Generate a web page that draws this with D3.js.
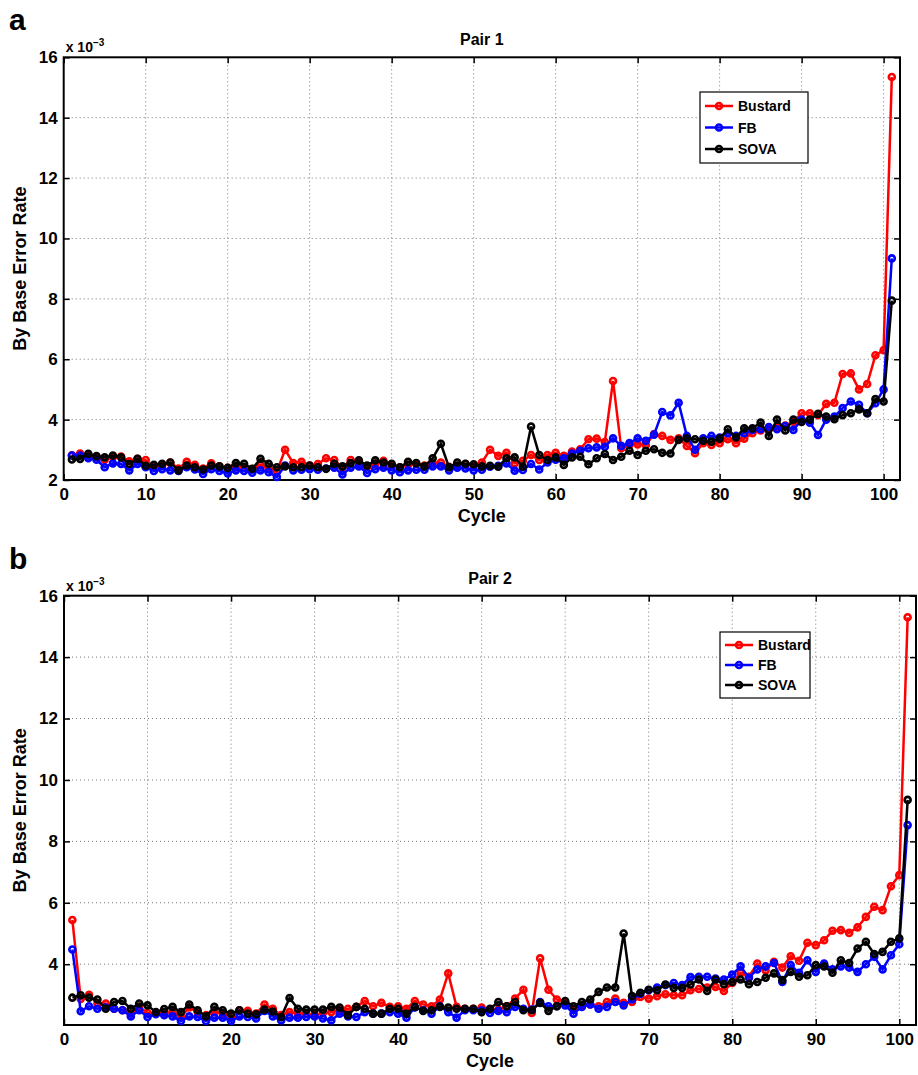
<!DOCTYPE html>
<html>
<head>
<meta charset="utf-8">
<script src="https://cdn.jsdelivr.net/npm/d3@7"></script>
<style>
  body { margin: 0; background: #fff; }
  text { font-family: "Liberation Sans", Arial, sans-serif; font-weight: bold; }
</style>
</head>
<body>
<div id="chart"></div>
<script>
// cycles 1..101
var cycles = d3.range(1, 102);
var seriesNames = ["Bustard", "FB", "SOVA"];
var seriesColors = ["#ff0000", "#0000ff", "#000000"];
var xTicks = [0, 10, 20, 30, 40, 50, 60, 70, 80, 90, 100];

// Pair 1 (values x 10^-3)
var bustard1 = [2.82,2.88,2.8,2.76,2.67,2.76,2.78,2.62,2.7,2.66,2.43,2.47,2.58,2.38,2.6,2.5,2.38,2.55,2.45,2.4,
  2.45,2.4,2.36,2.5,2.38,2.28,3.0,2.56,2.6,2.48,2.53,2.72,2.66,2.42,2.66,2.6,2.43,2.53,2.64,2.5,
  2.42,2.5,2.53,2.48,2.56,2.58,2.44,2.48,2.53,2.48,2.58,3.0,2.8,2.9,2.55,2.64,2.83,2.66,2.83,2.9,
  2.8,2.94,3.02,3.35,3.37,3.26,5.28,3.05,3.16,3.18,3.16,3.52,3.46,3.33,3.38,3.13,2.89,3.22,3.16,3.22,
  3.35,3.22,3.37,3.55,3.64,3.71,3.75,3.8,3.93,4.21,4.21,4.15,4.52,4.56,5.51,5.53,5.0,5.18,6.13,6.3,15.35];
var fb1 = [2.81,2.81,2.72,2.67,2.42,2.55,2.53,2.32,2.53,2.42,2.3,2.36,2.32,2.3,2.42,2.35,2.2,2.36,2.3,2.22,
  2.32,2.3,2.24,2.32,2.26,2.1,2.48,2.32,2.34,2.36,2.34,2.38,2.41,2.18,2.41,2.45,2.23,2.36,2.41,2.32,
  2.26,2.32,2.34,2.34,2.45,2.45,2.32,2.41,2.38,2.32,2.34,2.44,2.47,2.55,2.31,2.33,2.53,2.35,2.58,2.67,
  2.72,2.88,2.97,3.05,3.08,3.1,3.38,3.13,3.22,3.38,3.3,3.5,4.25,4.14,4.56,3.46,3.0,3.38,3.46,3.41,
  3.55,3.46,3.55,3.66,3.68,3.75,3.68,3.79,3.66,4.0,3.9,3.49,4.0,4.1,4.38,4.6,4.49,4.21,4.54,5.0,9.34];
var sova1 = [2.68,2.7,2.87,2.79,2.75,2.81,2.75,2.53,2.7,2.47,2.5,2.54,2.58,2.32,2.48,2.42,2.35,2.48,2.45,2.4,
  2.56,2.54,2.37,2.7,2.54,2.42,2.45,2.42,2.42,2.48,2.42,2.37,2.54,2.45,2.56,2.65,2.48,2.65,2.58,2.54,
  2.42,2.6,2.56,2.45,2.72,3.2,2.42,2.58,2.54,2.52,2.45,2.47,2.44,2.72,2.75,2.44,3.77,2.83,2.66,2.75,
  2.5,2.75,2.77,2.52,2.72,2.86,2.66,2.77,2.97,2.83,2.97,3.02,2.9,2.88,3.33,3.38,3.35,3.3,3.27,3.37,
  3.68,3.41,3.71,3.71,3.9,3.46,4.0,3.64,4.0,3.92,4.0,4.19,4.1,4.01,4.15,4.21,4.34,4.21,4.68,4.6,7.94];

// Pair 2 (values x 10^-3)
var bustard2 = [5.44,2.87,3.0,2.72,2.72,2.55,2.5,2.39,2.61,2.41,2.39,2.41,2.44,2.28,2.59,2.44,2.34,2.44,2.39,2.3,
  2.5,2.48,2.39,2.69,2.55,2.34,2.44,2.39,2.39,2.34,2.41,2.44,2.52,2.55,2.61,2.8,2.63,2.74,2.61,2.63,
  2.55,2.8,2.69,2.63,2.85,3.7,2.61,2.55,2.55,2.59,2.52,2.52,2.63,2.88,3.17,2.41,4.19,3.17,2.85,2.77,
  2.55,2.66,2.69,2.63,2.77,2.88,2.74,2.77,2.93,2.88,2.96,3.02,2.99,2.99,3.15,3.19,3.24,3.26,3.13,3.39,
  3.72,3.59,4.02,3.8,4.08,3.89,4.26,4.11,4.7,4.62,4.78,5.09,5.11,5.02,5.2,5.54,5.87,5.76,6.54,6.9,15.3];
var fb2 = [4.48,2.47,2.63,2.55,2.59,2.55,2.5,2.3,2.5,2.28,2.37,2.34,2.3,2.15,2.3,2.28,2.15,2.26,2.26,2.15,
  2.3,2.28,2.23,2.48,2.3,2.17,2.26,2.26,2.28,2.3,2.23,2.17,2.39,2.3,2.28,2.44,2.39,2.39,2.44,2.39,
  2.26,2.59,2.5,2.39,2.63,2.44,2.26,2.5,2.5,2.5,2.41,2.48,2.44,2.61,2.55,2.52,2.77,2.63,2.63,2.66,
  2.39,2.61,2.69,2.55,2.61,2.77,2.66,2.85,3.04,3.15,3.24,3.32,3.39,3.32,3.58,3.59,3.59,3.53,3.5,3.66,
  3.93,3.56,3.83,3.93,4.04,3.42,3.97,3.72,4.13,3.75,4.02,3.83,3.93,3.89,3.75,4.0,4.24,3.83,4.29,4.65,8.53];
var sova2 = [2.91,2.99,2.91,2.85,2.55,2.77,2.8,2.55,2.72,2.66,2.44,2.54,2.61,2.44,2.69,2.5,2.3,2.61,2.5,2.39,
  2.5,2.39,2.37,2.52,2.46,2.28,2.9,2.55,2.52,2.52,2.52,2.61,2.59,2.34,2.61,2.55,2.39,2.39,2.55,2.55,
  2.39,2.61,2.48,2.5,2.61,2.59,2.55,2.55,2.55,2.44,2.55,2.77,2.63,2.77,2.5,2.5,2.74,2.48,2.63,2.8,
  2.63,2.77,2.85,3.1,3.24,3.24,5.0,2.96,3.07,3.17,3.15,3.34,3.23,3.23,3.34,3.5,3.13,3.5,3.35,3.42,
  3.5,3.35,3.42,3.56,3.7,3.48,3.75,3.59,3.64,3.97,3.93,3.72,4.13,4.04,4.51,4.73,4.33,4.4,4.73,4.84,9.35];

var W = 918, H = 1075;
var svg = d3.select("#chart").append("svg")
  .attr("width", W).attr("height", H);

var panels = [
  { letter: "a", title: "Pair 1", data: [bustard1, fb1, sova1],
    left: 63.7, right: 900, top: 57.3, bottom: 480, yMin: 2,
    yTicks: [2, 4, 6, 8, 10, 12, 14, 16],
    legend: { x: 700, y: 92, w: 108, h: 71 } },
  { letter: "b", title: "Pair 2", data: [bustard2, fb2, sova2],
    left: 64, right: 916, top: 595.7, bottom: 1025, yMin: 2.02,
    yTicks: [4, 6, 8, 10, 12, 14, 16],
    legend: { x: 720, y: 632, w: 90, h: 66 } }
];

panels.forEach(function(p) {
  var g = svg.append("g");

  var x = d3.scaleLinear().domain([0, 102]).range([p.left, p.right]);
  var y = d3.scaleLinear().domain([p.yMin, 16]).range([p.bottom, p.top]);

  // grid
  g.append("g").selectAll("line.gx")
    .data(xTicks.filter(function(d) { return d > 0; }))
    .enter().append("line")
    .attr("x1", function(d) { return x(d); }).attr("x2", function(d) { return x(d); })
    .attr("y1", p.top).attr("y2", p.bottom)
    .attr("stroke", "#777").attr("stroke-width", 1).attr("stroke-dasharray", "1,3");
  g.append("g").selectAll("line.gy")
    .data(p.yTicks.filter(function(d) { return d > p.yMin + 0.1 && d < 16; }))
    .enter().append("line")
    .attr("x1", p.left).attr("x2", p.right)
    .attr("y1", function(d) { return y(d); }).attr("y2", function(d) { return y(d); })
    .attr("stroke", "#777").attr("stroke-width", 1).attr("stroke-dasharray", "1,3");

  // axes (inward ticks, all four sides)
  var h = p.bottom - p.top, w = p.right - p.left;
  g.append("g").attr("transform", "translate(0," + p.bottom + ")")
    .call(d3.axisBottom(x).tickValues(xTicks).tickSize(-6).tickPadding(8).tickSizeOuter(0))
    .call(function(a) { a.select(".domain").remove(); });
  g.append("g").attr("transform", "translate(0," + p.top + ")")
    .call(d3.axisTop(x).tickValues(xTicks).tickSize(-6).tickFormat("").tickSizeOuter(0))
    .call(function(a) { a.select(".domain").remove(); });
  g.append("g").attr("transform", "translate(" + p.left + ",0)")
    .call(d3.axisLeft(y).tickValues(p.yTicks).tickSize(-6).tickPadding(6).tickSizeOuter(0))
    .call(function(a) { a.select(".domain").remove(); });
  g.append("g").attr("transform", "translate(" + p.right + ",0)")
    .call(d3.axisRight(y).tickValues(p.yTicks).tickSize(-6).tickFormat("").tickSizeOuter(0))
    .call(function(a) { a.select(".domain").remove(); });
  g.selectAll(".tick line").attr("stroke", "#000").attr("stroke-width", 1.5);
  g.selectAll(".tick text").attr("font-size", 17).attr("font-weight", "bold")
    .attr("font-family", "Liberation Sans, Arial, sans-serif").attr("fill", "#000");

  g.append("rect")
    .attr("x", p.left).attr("y", p.top).attr("width", w).attr("height", h)
    .attr("fill", "none").attr("stroke", "#000").attr("stroke-width", 2);

  // lines + markers
  var line = d3.line()
    .x(function(d, i) { return x(cycles[i]); })
    .y(function(d) { return y(d); });

  p.data.forEach(function(vals, k) {
    g.append("path").datum(vals)
      .attr("d", line)
      .attr("fill", "none").attr("stroke", seriesColors[k]).attr("stroke-width", 2.5);
    g.append("g").selectAll("circle").data(vals).enter().append("circle")
      .attr("cx", function(d, i) { return x(cycles[i]); })
      .attr("cy", function(d) { return y(d); })
      .attr("r", 3)
      .attr("fill", "none").attr("stroke", seriesColors[k]).attr("stroke-width", 2.6);
  });

  // texts
  g.append("text").attr("x", 9).attr("y", p.top - 27)
    .attr("font-size", 30).text(p.letter);
  g.append("text").attr("x", (p.left + p.right) / 2).attr("y", p.top - 12)
    .attr("text-anchor", "middle").attr("font-size", 16).text(p.title);
  var ex = g.append("text").attr("x", p.left + 2).attr("y", p.top - 5).attr("font-size", 14);
  ex.append("tspan").text("x 10");
  ex.append("tspan").attr("dy", -6).attr("font-size", 10).text("\u22123");
  g.append("text").attr("x", (p.left + p.right) / 2).attr("y", p.bottom + 42)
    .attr("text-anchor", "middle").attr("font-size", 18).text("Cycle");
  g.append("text")
    .attr("transform", "translate(26," + ((p.top + p.bottom) / 2) + ") rotate(-90)")
    .attr("text-anchor", "middle").attr("font-size", 18).text("By Base Error Rate");

  // legend
  var L = p.legend;
  var lg = g.append("g");
  lg.append("rect").attr("x", L.x).attr("y", L.y).attr("width", L.w).attr("height", L.h)
    .attr("fill", "#fff").attr("stroke", "#000").attr("stroke-width", 1.2);
  var step = L.h / 3.3;
  seriesNames.forEach(function(name, k) {
    var yy = L.y + step * (k + 0.65);
    lg.append("line").attr("x1", L.x + 5).attr("x2", L.x + 33)
      .attr("y1", yy).attr("y2", yy)
      .attr("stroke", seriesColors[k]).attr("stroke-width", 2.5);
    lg.append("circle").attr("cx", L.x + 19).attr("cy", yy).attr("r", 3)
      .attr("fill", "none").attr("stroke", seriesColors[k]).attr("stroke-width", 2.6);
    lg.append("text").attr("x", L.x + 38).attr("y", yy + 5)
      .attr("font-size", 14).text(name);
  });
});
</script>
</body>
</html>
